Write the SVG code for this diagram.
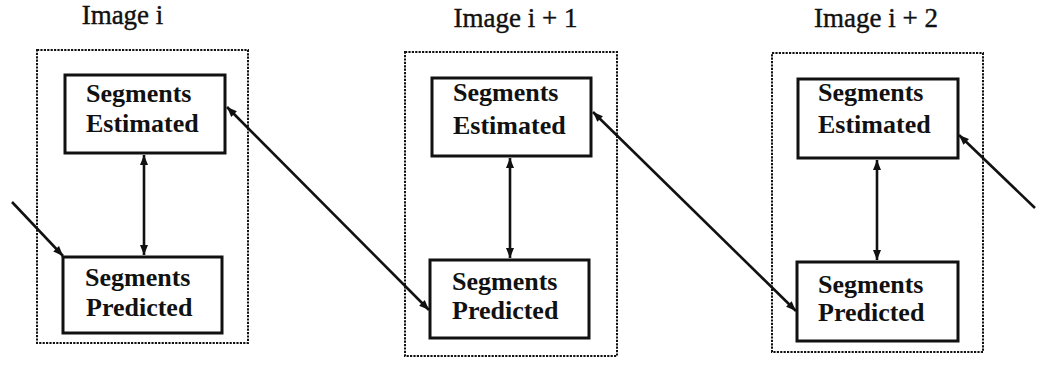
<svg xmlns="http://www.w3.org/2000/svg" width="1041" height="371" viewBox="0 0 1041 371">
<style>
.frame{fill:none;stroke:#111;stroke-width:2;stroke-dasharray:2.2 1.2}
.box{fill:none;stroke:#111;stroke-width:3}
.title{font-family:"Liberation Serif",serif;font-size:27px;fill:#111;stroke:#111;stroke-width:0.4}
.lbl{font-family:"Liberation Serif",serif;font-weight:bold;font-size:26px;fill:#111}
.conn{fill:none;stroke:#111;stroke-width:2.6}
</style>
<defs>
<marker id="ah" markerUnits="userSpaceOnUse" markerWidth="12" markerHeight="10" refX="10" refY="4" orient="auto-start-reverse">
<path d="M0,0 L10,4 L0,8 Z" fill="#111"/>
</marker>
</defs>
<g id="panel1">
<rect class="frame" x="37" y="50" width="211" height="293"/>
<text class="title" x="122.5" y="24" text-anchor="middle">Image i</text>
</g>
<g id="panel2">
<rect class="frame" x="405" y="52" width="212" height="304"/>
<text class="title" x="515.5" y="27" text-anchor="middle">Image i + 1</text>
</g>
<g id="panel3">
<rect class="frame" x="772" y="53" width="211" height="299"/>
<text class="title" x="876" y="27" text-anchor="middle">Image i + 2</text>
</g>
<g id="est1">
<rect class="box" x="65" y="75" width="160" height="78"/>
<text class="lbl" x="86" y="102">Segments</text>
<text class="lbl" x="86" y="132">Estimated</text>
</g>
<g id="pred1">
<rect class="box" x="63" y="257" width="159" height="76"/>
<text class="lbl" x="85" y="286">Segments</text>
<text class="lbl" x="86" y="316">Predicted</text>
</g>
<g id="est2">
<rect class="box" x="432" y="78" width="159" height="78"/>
<text class="lbl" x="453" y="101">Segments</text>
<text class="lbl" x="453" y="134">Estimated</text>
</g>
<g id="pred2">
<rect class="box" x="430" y="260" width="159" height="78"/>
<text class="lbl" x="452" y="290">Segments</text>
<text class="lbl" x="452" y="319">Predicted</text>
</g>
<g id="est3">
<rect class="box" x="798" y="79" width="160" height="79"/>
<text class="lbl" x="818" y="101">Segments</text>
<text class="lbl" x="818" y="133">Estimated</text>
</g>
<g id="pred3">
<rect class="box" x="797" y="262" width="161" height="79"/>
<text class="lbl" x="818" y="293">Segments</text>
<text class="lbl" x="818" y="321">Predicted</text>
</g>
<g id="connectors">
<line class="conn" x1="144" y1="155" x2="144" y2="255" marker-start="url(#ah)" marker-end="url(#ah)"/>
<line class="conn" x1="510" y1="158" x2="510" y2="258" marker-start="url(#ah)" marker-end="url(#ah)"/>
<line class="conn" x1="877" y1="160" x2="877" y2="260" marker-start="url(#ah)" marker-end="url(#ah)"/>
<line class="conn" x1="12" y1="202" x2="63" y2="256" marker-end="url(#ah)"/>
<line class="conn" x1="227" y1="107" x2="429" y2="310" marker-start="url(#ah)" marker-end="url(#ah)"/>
<line class="conn" x1="593" y1="112" x2="796" y2="311" marker-start="url(#ah)" marker-end="url(#ah)"/>
<line class="conn" x1="1035" y1="208" x2="959" y2="135" marker-end="url(#ah)"/>
</g>
</svg>
